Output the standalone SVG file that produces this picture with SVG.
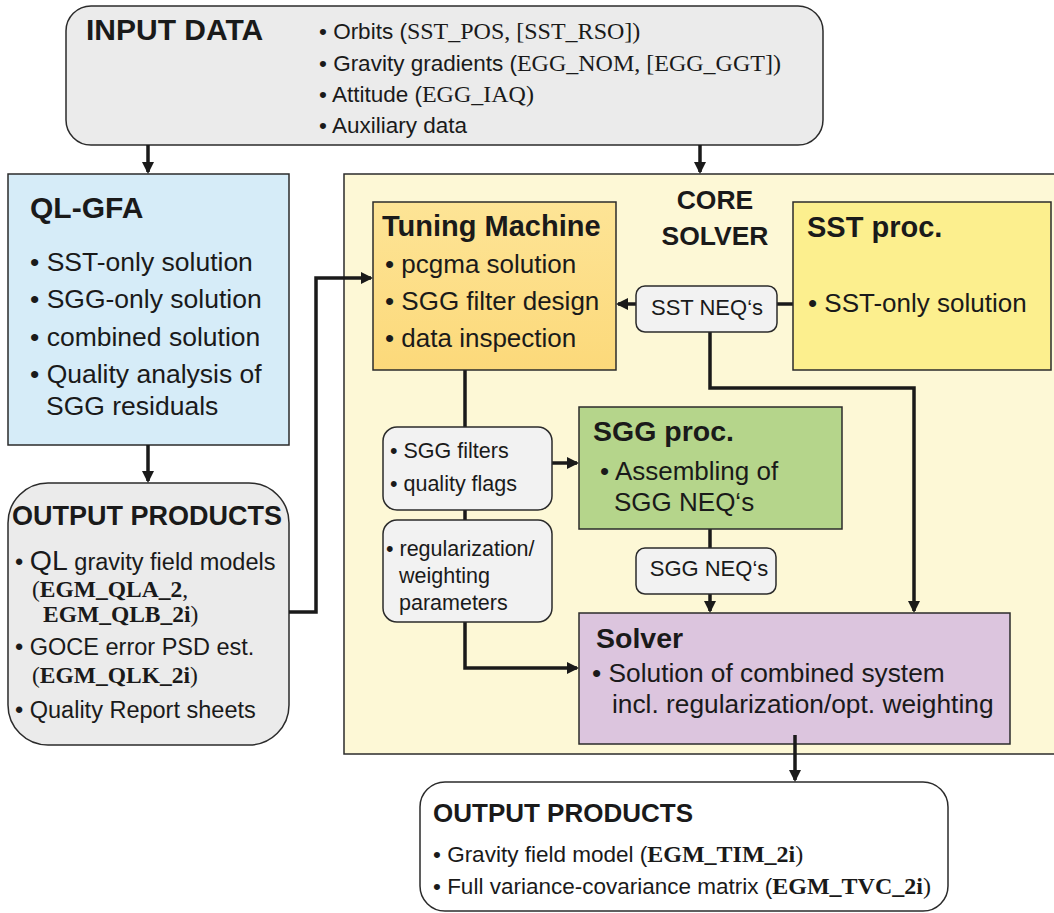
<svg xmlns="http://www.w3.org/2000/svg" width="1054" height="913" viewBox="0 0 1054 913">
<defs>
<marker id="arr" markerUnits="userSpaceOnUse" markerWidth="12" markerHeight="12" refX="10" refY="6" orient="auto">
<path d="M0,0 L12,6 L0,12 z" fill="#1a1a1a"/>
</marker>
<linearGradient id="tung" x1="0" y1="0" x2="0" y2="1">
<stop offset="0" stop-color="#fde496"/>
<stop offset="1" stop-color="#fcd97a"/>
</linearGradient>
</defs>
<style>
.box{stroke:#2b2b2b;stroke-width:1.5}
.t{font-family:"Liberation Sans",Arial,sans-serif;fill:#1a1a1a}
.b{font-weight:bold}
.s{font-family:"Liberation Serif","Times New Roman",serif}
.sb{font-family:"Liberation Serif","Times New Roman",serif;font-weight:bold}
.c{fill:none;stroke:#1a1a1a;stroke-width:3.5;stroke-linejoin:miter}
.ca{fill:none;stroke:#1a1a1a;stroke-width:3.5;marker-end:url(#arr)}
</style>
<rect x="0" y="0" width="1054" height="913" fill="#ffffff"/>

<g id="core-solver">
<rect class="box" x="344" y="174" width="730" height="580" fill="#fdf8d6"/>
<text class="t b" x="715" y="209" font-size="26.5" text-anchor="middle">CORE</text>
<text class="t b" x="715" y="245" font-size="26.5" text-anchor="middle">SOLVER</text>
</g>

<g id="input-data">
<rect class="box" x="66" y="6" width="757" height="139" rx="25" fill="#ebebeb"/>
<text class="t b" x="86" y="40" font-size="30">INPUT DATA</text>
<text class="t" x="319" y="39" font-size="22.5">• Orbits (<tspan class="s" font-size="24">SST_POS, [SST_RSO])</tspan></text>
<text class="t" x="319" y="71" font-size="22.5">• Gravity gradients (<tspan class="s" font-size="24">EGG_NOM, [EGG_GGT])</tspan></text>
<text class="t" x="319" y="102" font-size="22.5">• Attitude (<tspan class="s" font-size="24">EGG_IAQ)</tspan></text>
<text class="t" x="319" y="133" font-size="22.5">• Auxiliary data</text>
</g>

<g id="ql-gfa">
<rect class="box" x="8" y="174" width="281" height="271" fill="#d6ecf8"/>
<text class="t b" x="30" y="218" font-size="30">QL-GFA</text>
<text class="t" x="30" y="271" font-size="26.5">• SST-only solution</text>
<text class="t" x="30" y="308" font-size="26.5">• SGG-only solution</text>
<text class="t" x="30" y="346" font-size="26.5">• combined solution</text>
<text class="t" x="30" y="383" font-size="26.5">• Quality analysis of</text>
<text class="t" x="46" y="415" font-size="26.5">SGG residuals</text>
</g>

<g id="output-ql">
<rect class="box" x="8" y="483" width="281" height="262" rx="40" fill="#ebebeb"/>
<text class="t b" x="12" y="525" font-size="27">OUTPUT PRODUCTS</text>
<text class="t" x="15" y="570" font-size="23.5">• <tspan font-size="28.5">QL</tspan> gravity field models</text>
<text class="t" x="32" y="597" font-size="23.5"><tspan class="s">(</tspan><tspan class="sb">EGM_QLA_2</tspan><tspan class="s">,</tspan></text>
<text class="t" x="43" y="622" font-size="23.5"><tspan class="sb">EGM_QLB_2i</tspan><tspan class="s">)</tspan></text>
<text class="t" x="15" y="655" font-size="23.5">• GOCE error PSD est.</text>
<text class="t" x="32" y="683" font-size="23.5"><tspan class="s">(</tspan><tspan class="sb">EGM_QLK_2i</tspan><tspan class="s">)</tspan></text>
<text class="t" x="15" y="718" font-size="23.5">• Quality Report sheets</text>
</g>

<g id="connectors">
<line class="ca" x1="148" y1="145" x2="148" y2="172"/>
<line class="ca" x1="700" y1="145" x2="700" y2="172"/>
<line class="ca" x1="148" y1="445" x2="148" y2="481"/>
<polyline class="ca" points="289,612 316,612 316,278 371,278"/>
<line class="c" x1="793" y1="304" x2="777" y2="304"/>
<line class="ca" x1="636" y1="304" x2="618" y2="304"/>
<polyline class="ca" points="710,332 710,388 914,388 914,611"/>
<line class="c" x1="465" y1="370" x2="465" y2="428"/>
<line class="c" x1="465" y1="509" x2="465" y2="521"/>
<polyline class="ca" points="465,621 465,668 577,668"/>
<line class="ca" x1="552" y1="463" x2="577" y2="463"/>
<line class="c" x1="710" y1="529" x2="710" y2="548"/>
<line class="ca" x1="710" y1="594" x2="710" y2="611"/>
</g>

<g id="tuning-machine">
<rect class="box" x="373" y="202" width="243" height="168" fill="url(#tung)"/>
<text class="t b" x="382" y="236" font-size="29">Tuning Machine</text>
<text class="t" x="385" y="273" font-size="26">• pcgma solution</text>
<text class="t" x="385" y="310" font-size="26">• SGG filter design</text>
<text class="t" x="385" y="347" font-size="26">• data inspection</text>
</g>

<g id="sst-proc">
<rect class="box" x="793" y="202" width="258" height="168" fill="#fcef8e"/>
<text class="t b" x="807" y="237" font-size="29">SST proc.</text>
<text class="t" x="808" y="312" font-size="26">• SST-only solution</text>
</g>

<g id="sst-neq">
<rect class="box" x="636" y="286" width="141" height="46" rx="9" fill="#f2f2f2"/>
<text class="t" x="707" y="315" font-size="22" text-anchor="middle">SST NEQ‘s</text>
</g>

<g id="sgg-filters">
<rect class="box" x="383" y="427" width="169" height="83" rx="14" fill="#f2f2f2"/>
<text class="t" x="390" y="458" font-size="21.5">• SGG filters</text>
<text class="t" x="390" y="491" font-size="21.5">• quality flags</text>
</g>

<g id="regularization">
<rect class="box" x="383" y="520" width="169" height="102" rx="14" fill="#f2f2f2"/>
<text class="t" x="386" y="556" font-size="21.5">• regularization/</text>
<text class="t" x="399" y="583" font-size="21.5">weighting</text>
<text class="t" x="399" y="610" font-size="21.5">parameters</text>
</g>

<g id="sgg-proc">
<rect class="box" x="579" y="407" width="263" height="122" fill="#b5d58b"/>
<text class="t b" x="593" y="441" font-size="28.5">SGG proc.</text>
<text class="t" x="600" y="480" font-size="26">• Assembling of</text>
<text class="t" x="614" y="511" font-size="26">SGG NEQ‘s</text>
</g>

<g id="sgg-neq">
<rect class="box" x="636" y="548" width="140" height="46" rx="9" fill="#f2f2f2"/>
<text class="t" x="709" y="576" font-size="22" text-anchor="middle">SGG NEQ‘s</text>
</g>

<g id="solver">
<rect class="box" x="579" y="613" width="431" height="131" fill="#dcc5de"/>
<text class="t b" x="596" y="648" font-size="28.5">Solver</text>
<text class="t" x="592" y="682" font-size="26.3">• Solution of combined system</text>
<text class="t" x="612" y="713" font-size="26.3">incl. regularization/opt. weighting</text>
</g>

<g id="output-final">
<rect class="box" x="420" y="782" width="528" height="129" rx="25" fill="#ffffff"/>
<text class="t b" x="433" y="822" font-size="26">OUTPUT PRODUCTS</text>
<text class="t" x="433" y="862" font-size="22.5">• Gravity field model (<tspan class="sb" font-size="24">EGM_TIM_2i</tspan><tspan class="s" font-size="24">)</tspan></text>
<text class="t" x="433" y="894" font-size="22.5">• Full variance-covariance matrix (<tspan class="sb" font-size="24">EGM_TVC_2i</tspan><tspan class="s" font-size="24">)</tspan></text>
</g>

<g id="connector-out">
<line class="ca" x1="795" y1="735" x2="795" y2="780"/>
</g>
</svg>
